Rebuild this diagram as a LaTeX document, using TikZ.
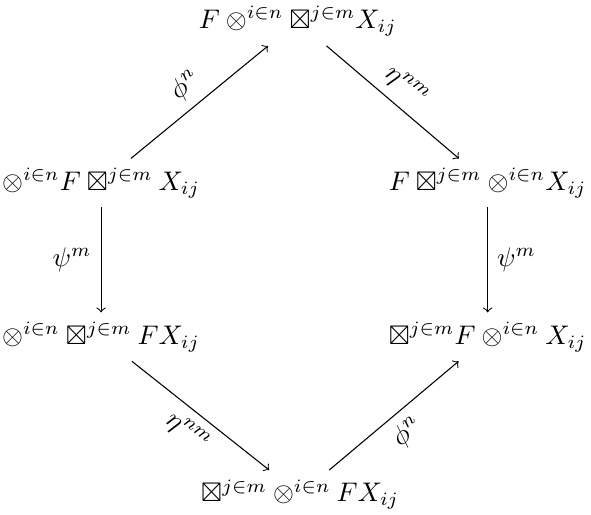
\documentclass[tikz,border=0pt]{standalone}
\usepackage{amsmath,amssymb}
\usetikzlibrary{arrows.meta}

\begin{document}
\begin{tikzpicture}[>=to]
  \useasboundingbox (0,0) rectangle (7.72,6.72);
  % Objects of the hexagon
  \node (top) at (3.89,6.44) {$F \otimes^{i\in n} \boxtimes^{j\in m} X_{ij}$};
  \node (lu)  at (1.32,4.33) {$\otimes^{i\in n} F \boxtimes^{j\in m} X_{ij}$};
  \node (ru)  at (6.37,4.33) {$F \boxtimes^{j\in m} \otimes^{i\in n} X_{ij}$};
  \node (ll)  at (1.32,2.32) {$\otimes^{i\in n} \boxtimes^{j\in m} F X_{ij}$};
  \node (rl)  at (6.37,2.32) {$\boxtimes^{j\in m} F \otimes^{i\in n} X_{ij}$};
  \node (bot) at (3.92,0.26) {$\boxtimes^{j\in m} \otimes^{i\in n} F X_{ij}$};

  % Upper path
  \draw[->] (lu) -- (top) node[midway, above, sloped] {$\phi^n$};
  \draw[->] (top) -- (ru) node[midway, above, sloped] {$\eta^{nm}$};
  \draw[->] (ru) -- (rl) node[midway, right] {$\psi^m$};

  % Lower path
  \draw[->] (lu) -- (ll) node[midway, left] {$\psi^m$};
  \draw[->] (ll) -- (bot) node[midway, below, sloped] {$\eta^{nm}$};
  \draw[->] (bot) -- (rl) node[midway, below, sloped] {$\phi^n$};
\end{tikzpicture}
\end{document}
